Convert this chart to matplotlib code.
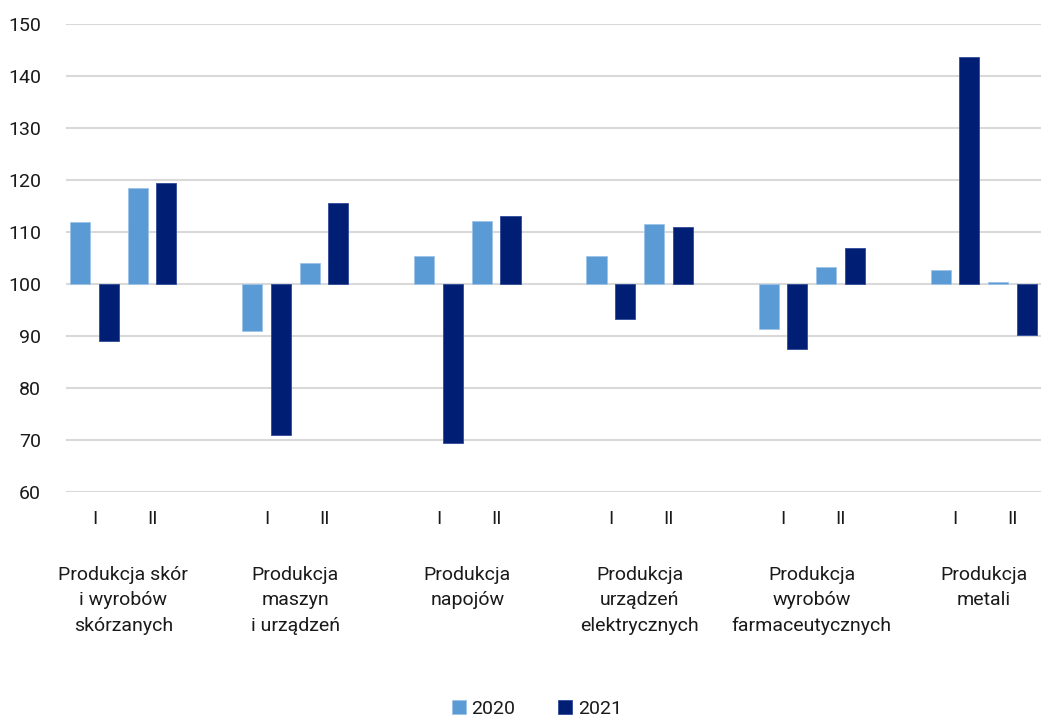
import matplotlib
matplotlib.use("Agg")
import matplotlib.pyplot as plt
import matplotlib.transforms as mtransforms
import numpy as np

plt.rcParams['font.family'] = ['Roboto', 'DejaVu Sans']

groups = ["Produkcja skór\ni wyrobów\nskórzanych",
          "Produkcja\nmaszyn\ni urządzeń",
          "Produkcja\nnapojów",
          "Produkcja\nurządzeń\nelektrycznych",
          "Produkcja\nwyrobów\nfarmaceutycznych",
          "Produkcja\nmetali"]
subs = ["I", "II"]
series_names = ["2020", "2021"]
# values per group: [I, II]
v2020 = [112.0, 118.5, 91.0, 104.0, 105.3, 112.2, 105.4, 111.5, 91.3, 103.2, 102.7, 100.45]
v2021 = [89.0, 119.4, 71.0, 115.6, 69.4, 113.1, 93.3, 110.9, 87.5, 106.9, 143.6, 90.1]
yticks = [60, 70, 80, 90, 100, 110, 120, 130, 140, 150]

c2020 = "#5B9BD5"
c2021 = "#001E73"
tc = "#1a1a1a"
fs = 14

fig = plt.figure(figsize=(10.43, 7.18), dpi=100)
ax = fig.add_axes([66/1043, 1-492/718, (1041-66)/1043, (492-24)/718])

xpos = []
for g in range(len(groups)):
    for s in range(len(subs)):
        xpos.append(g*3 + s)
xpos = np.array(xpos, dtype=float)

w = 0.35
off = 0.25
base = 100
ax.bar(xpos - off, np.array(v2020) - base, bottom=base, width=w, color=c2020,
       edgecolor="#9DC3E6", linewidth=0.6, label=series_names[0], zorder=3)
ax.bar(xpos + off, np.array(v2021) - base, bottom=base, width=w, color=c2021,
       edgecolor="#2F4A9A", linewidth=0.6, label=series_names[1], zorder=3)

ax.set_ylim(60, 150)
ax.set_xlim(-0.5, 16.5)
ax.set_yticks(yticks)
ax.yaxis.grid(True, color="#D9D9D9", linewidth=1.5)
ax.set_axisbelow(True)
for sp in ax.spines.values():
    sp.set_visible(False)
ax.tick_params(axis='y', length=0, pad=18, labelsize=fs, labelcolor=tc)
ax.set_xticks([])

trans = mtransforms.blended_transform_factory(ax.transData, fig.transFigure)
for i, x in enumerate(xpos):
    ax.text(x, 1-519/718, subs[i % 2], transform=trans, ha='center', va='center',
            fontsize=fs, color=tc)
for g, name in enumerate(groups):
    ax.text(g*3 + 0.5, 1-566/718, name, transform=trans, ha='center', va='top',
            fontsize=fs, color=tc, linespacing=1.52)

leg = fig.legend(loc='center', bbox_to_anchor=(537/1043, 1-709/718), ncol=2, frameon=False,
                 fontsize=fs, handlelength=0.7, handleheight=0.7, handletextpad=0.3,
                 columnspacing=2.2)
for t in leg.get_texts():
    t.set_color(tc)

fig.savefig("out.png", dpi=100)
